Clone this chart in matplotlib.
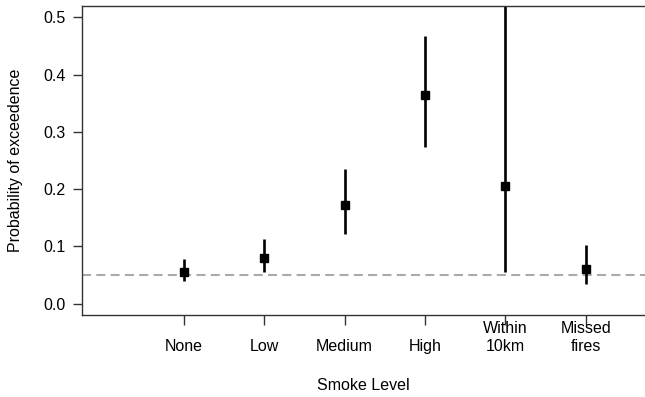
import matplotlib
matplotlib.use("Agg")
import matplotlib.pyplot as plt
from matplotlib.transforms import ScaledTranslation

plt.rcParams['font.family'] = ['Liberation Sans', 'DejaVu Sans']
plt.rcParams['lines.scale_dashes'] = False

categories = ["None", "Low", "Medium", "High", "Within\n10km", "Missed\nfires"]
estimate = [0.056, 0.080, 0.172, 0.365, 0.206, 0.061]
lower = [0.039, 0.055, 0.122, 0.274, 0.056, 0.035]
upper = [0.077, 0.112, 0.236, 0.468, 0.600, 0.102]
threshold = 0.05
yticks = [0.0, 0.1, 0.2, 0.3, 0.4, 0.5]

W, H = 645, 397
fig = plt.figure(figsize=(W / 100, H / 100), dpi=100)
left, right, top, bottom = 82, 647, 6, 315
ax = fig.add_axes([left / W, 1 - bottom / H, (right - left) / W, (bottom - top) / H])

pos = list(range(1, len(categories) + 1))
ax.axhline(threshold, color='#aaaaaa', lw=1.5, dashes=(6.5, 3.8), zorder=1)
for x, lo, hi in zip(pos, lower, upper):
    ax.plot([x, x], [lo, hi], color='black', lw=1.9, solid_capstyle='butt', zorder=2)
ax.plot(pos, estimate, linestyle='none', marker='s', color='black', markersize=5.5, zorder=3)

ax.set_ylim(-0.02, 0.52)
ax.set_xlim(-0.265, -0.265 + (right - left) / 80.4)

for s in ax.spines.values():
    s.set_color('#333333')
    s.set_linewidth(1.0)

ax.set_yticks(yticks)
ax.set_yticklabels([f"{v:.1f}" for v in yticks])
ax.tick_params(axis='y', length=6.5, width=1.0, color='#333333', pad=5.5, labelsize=11.5)
ax.set_xticks(pos)
ax.set_xticklabels([""] * len(pos))
ax.tick_params(axis='x', length=7, width=1.0, color='#333333')

trans = ax.get_xaxis_transform() + ScaledTranslation(0, -39 / 100, fig.dpi_scale_trans)
for x, lab in zip(pos, categories):
    ax.text(x, 0, lab, transform=trans, ha='center', va='bottom', multialignment='center',
            fontsize=11.5, linespacing=1.25)

fig.text(16 / W, 1 - 160 / H, "Probability of exceedence", rotation=90, ha='center', va='center', fontsize=11.5)
fig.text(363 / W, 1 - 385 / H, "Smoke Level", ha='center', va='center', fontsize=11.5)

fig.savefig("out.png", dpi=100)
